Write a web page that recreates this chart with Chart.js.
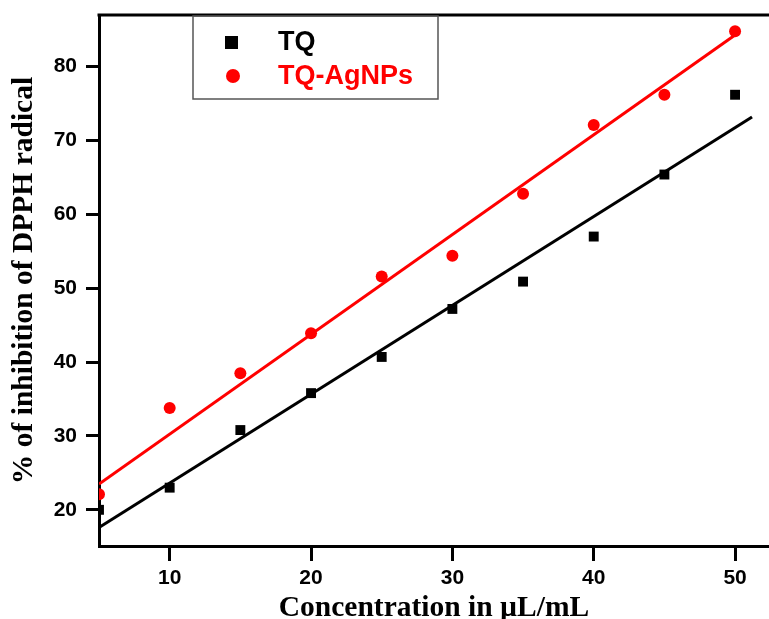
<!DOCTYPE html>
<html>
<head>
<meta charset="utf-8">
<script src="https://cdn.jsdelivr.net/npm/chart.js@4/dist/chart.umd.min.js"></script>
<style>
  body { margin: 0; background: #fff; }
  canvas { display: block; }
</style>
</head>
<body>
<canvas id="grafico" width="769" height="619"></canvas>
<script>
// concentraciones (µL/mL)
const concentracion = [5, 10, 15, 20, 25, 30, 35, 40, 45, 50];
// % de inhibición
const valoresTQ = [20.0, 23.0, 30.8, 35.8, 40.7, 47.2, 50.9, 57.0, 65.4, 76.2];
const valoresAg = [22.1, 33.8, 38.5, 43.9, 51.6, 54.4, 62.8, 72.1, 76.2, 84.8];

// rectas de ajuste (extremos)
const ajusteTQx = [5, 51.2];
const ajusteTQy = [17.6, 73.2];
const ajusteAgx = [5, 50];
const ajusteAgy = [23.5, 84.3];

const ticksX = [10, 20, 30, 40, 50];
const ticksY = [20, 30, 40, 50, 60, 70, 80];

const nombres = ['TQ', 'TQ-AgNPs'];

const puntos = (xs, ys) => xs.map((x, i) => ({ x: x, y: ys[i] }));

// Leyenda dibujada a mano y borde superior del marco
const leyendaPlugin = {
    id: 'leyendaMarco',
    afterDraw(chart) {
        const ctx = chart.ctx;
        const area = chart.chartArea;
        ctx.save();
        // borde superior
        ctx.strokeStyle = '#000';
        ctx.lineWidth = 3;
        ctx.beginPath();
        ctx.moveTo(area.left - 1.5, area.top);
        ctx.lineTo(area.right, area.top);
        ctx.stroke();

        // caja de la leyenda
        const bx = area.left + 94, by = area.top + 1, bw = 245, bh = 83;
        ctx.strokeStyle = '#555';
        ctx.lineWidth = 1.5;
        ctx.strokeRect(bx, by, bw, bh);

        // marcadores
        ctx.fillStyle = '#000';
        ctx.fillRect(bx + 32, by + 20, 13, 13);
        ctx.fillStyle = '#ff0000';
        ctx.beginPath();
        ctx.arc(bx + 40, by + 60, 7, 0, Math.PI * 2);
        ctx.fill();

        // textos
        ctx.font = 'bold 27px "Liberation Sans", Arial, sans-serif';
        ctx.textBaseline = 'middle';
        ctx.textAlign = 'left';
        ctx.fillStyle = '#000';
        ctx.fillText(nombres[0], bx + 85, by + 27);
        ctx.fillStyle = '#ff0000';
        ctx.fillText(nombres[1], bx + 85, by + 61);
        ctx.restore();
    }
};

const fuenteTicks = { family: '"Liberation Sans", Arial, sans-serif', weight: 'bold', size: 21 };
const fuenteTitulo = { family: '"Liberation Serif", "Times New Roman", serif', weight: 'bold', size: 29.5, lineHeight: 0.75 };

const ctx = document.getElementById('grafico').getContext('2d');
new Chart(ctx, {
    data: {
        datasets: [
            {
                type: 'line',
                label: 'ajuste TQ',
                data: puntos(ajusteTQx, ajusteTQy),
                borderColor: '#000',
                borderWidth: 3,
                pointRadius: 0,
                fill: false,
                clip: 0
            },
            {
                type: 'line',
                label: 'ajuste TQ-AgNPs',
                data: puntos(ajusteAgx, ajusteAgy),
                borderColor: '#ff0000',
                borderWidth: 3,
                pointRadius: 0,
                fill: false,
                clip: 0
            },
            {
                type: 'scatter',
                label: nombres[0],
                data: puntos(concentracion, valoresTQ),
                pointStyle: 'rect',
                pointRadius: 7,
                backgroundColor: '#000',
                borderColor: '#000',
                borderWidth: 0,
                clip: 0
            },
            {
                type: 'scatter',
                label: nombres[1],
                data: puntos(concentracion, valoresAg),
                pointStyle: 'circle',
                pointRadius: 6,
                backgroundColor: '#ff0000',
                borderColor: '#ff0000',
                borderWidth: 0,
                clip: 0
            }
        ]
    },
    options: {
        responsive: false,
        animation: false,
        layout: { autoPadding: false, padding: { top: 15, right: 0, bottom: 0, left: 0 } },
        plugins: {
            legend: { display: false },
            tooltip: { enabled: false }
        },
        scales: {
            x: {
                type: 'linear',
                position: 'bottom',
                min: 5,
                max: 52.4,
                afterBuildTicks: (scale) => { scale.ticks = ticksX.map(v => ({ value: v })); },
                afterFit: (scale) => {
                    scale.height = 73;
                    scale.paddingLeft = 0;
                    scale.paddingRight = 0;
                },
                grid: { drawOnChartArea: false, drawTicks: true, tickLength: 15, color: '#000', lineWidth: 3 },
                border: { display: true, color: '#000', width: 3 },
                ticks: { color: '#000', font: fuenteTicks, padding: 5, maxRotation: 0 },
                title: { display: true, text: 'Concentration in µL/mL', color: '#000', font: fuenteTitulo, padding: 0 }
            },
            y: {
                type: 'linear',
                position: 'left',
                min: 15.1,
                max: 87,
                afterBuildTicks: (scale) => { scale.ticks = ticksY.map(v => ({ value: v })); },
                afterFit: (scale) => {
                    scale.width = 99;
                    scale.paddingTop = 0;
                    scale.paddingBottom = 0;
                },
                grid: { drawOnChartArea: false, drawTicks: true, tickLength: 13, color: '#000', lineWidth: 3 },
                border: { display: true, color: '#000', width: 3 },
                ticks: { color: '#000', font: fuenteTicks, padding: 9 },
                title: { display: true, text: '% of inhibition of DPPH radical', color: '#000', font: fuenteTitulo, padding: { top: 13 } }
            }
        }
    },
    plugins: [leyendaPlugin]
});
</script>
</body>
</html>
